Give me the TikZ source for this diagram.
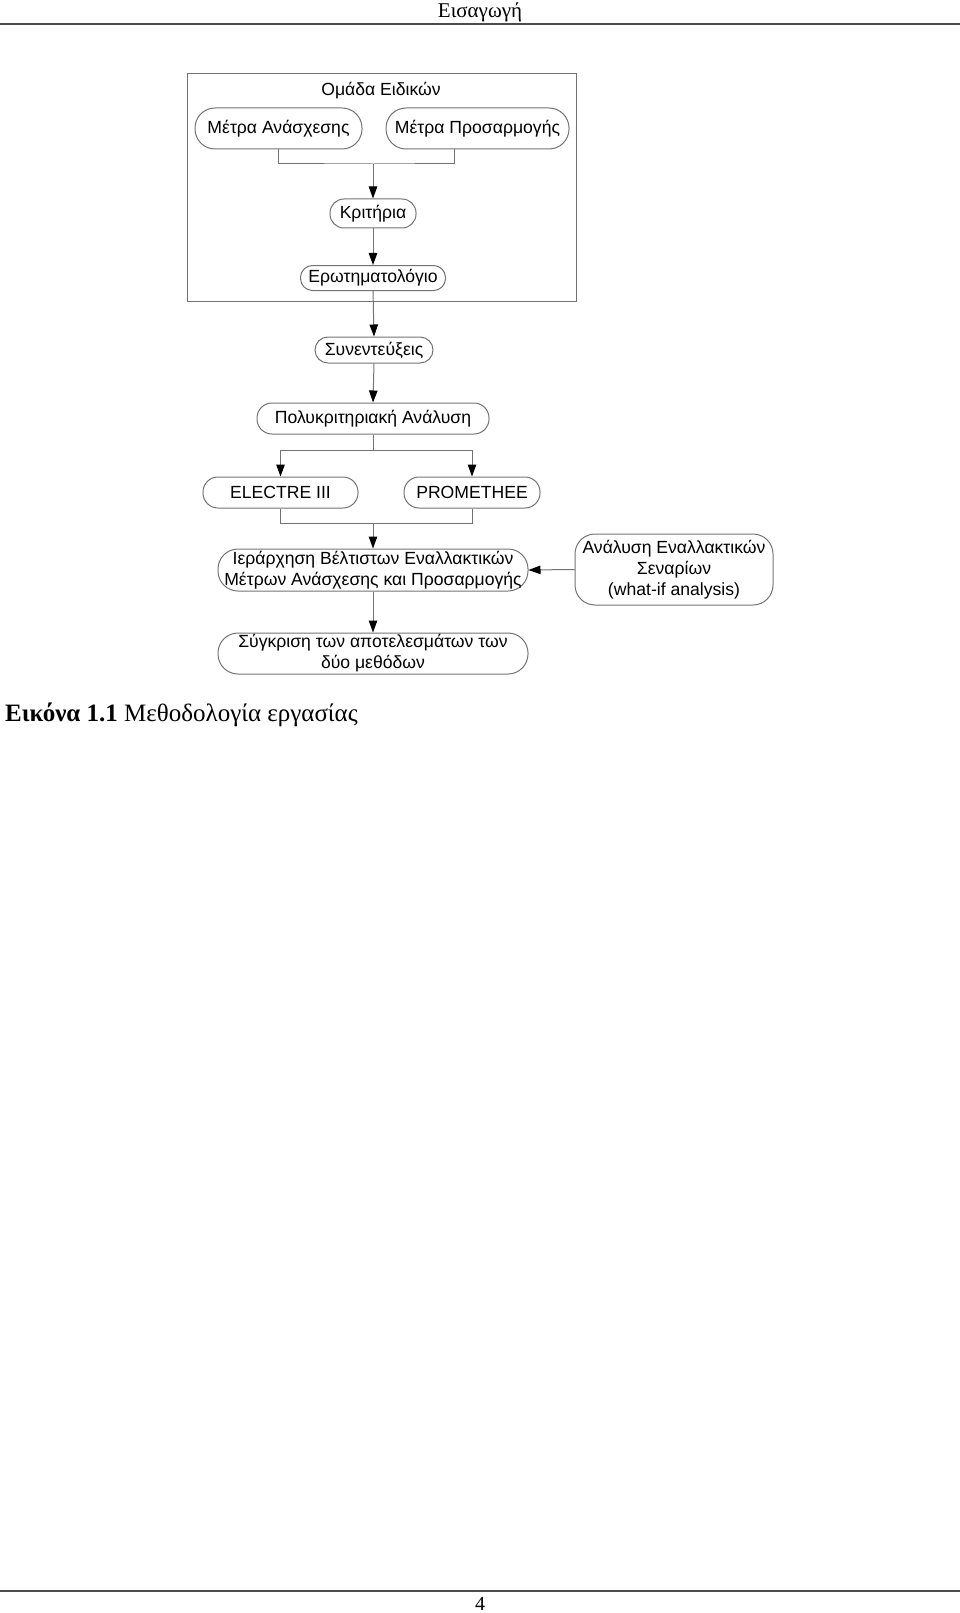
\documentclass[tikz,border=0pt]{standalone}
\usepackage{fontspec}
\setmainfont{Liberation Serif}
\newfontfamily\diag{Liberation Sans}
\usetikzlibrary{arrows.meta,calc}
\definecolor{linegray}{gray}{0.45}
\definecolor{rulegray}{gray}{0.3}
\begin{document}
\begin{tikzpicture}[x=1pt,y=-1pt,
  box/.style={draw=linegray, line width=1pt, rounded corners=#1, inner sep=0pt, align=center,
    font=\diag\fontsize{17.6}{21}\selectfont},
  box/.default=12pt,
  lbl/.style={inner sep=0pt, font=\diag\fontsize{17.6}{21}\selectfont},
  conn/.style={draw=linegray, line width=1pt},
  arr/.style={conn, -{Triangle[length=12pt,width=8.5pt,color=black]}},
  rulel/.style={draw=rulegray, line width=2pt},
]
\useasboundingbox (0,0) rectangle (960,1613);

% header and footer
\node[inner sep=0pt, font=\fontsize{21}{24}\selectfont] (hdr) at (480,12) {Εισαγωγή};
\draw[rulel] (0,24) -- (960,24);
\draw[rulel] (0,1591) -- (960,1591);
\node[inner sep=0pt, font=\fontsize{20}{24}\selectfont] (pg) at (480,1604) {4};

% group frame
\node[draw=linegray, line width=1pt, minimum width=389pt, minimum height=227pt, inner sep=0pt] (grp) at (381.5,187.5) {};
\node[lbl] (grptitle) at (381,91) {Ομάδα Ειδικών};

% nodes
\node[box=20pt, minimum width=167pt, minimum height=41pt] (ma) at (278.5,128.5) {Μέτρα Ανάσχεσης};
\node[box=20pt, minimum width=183pt, minimum height=41pt] (mp) at (477.5,128.5) {Μέτρα Προσαρμογής};
\node[box=14pt, minimum width=86pt, minimum height=29pt] (kr) at (373,213.5) {Κριτήρια};
\node[box=12pt, minimum width=145pt, minimum height=25pt] (er) at (373,278) {Ερωτηματολόγιο};
\node[box=13pt, minimum width=118pt, minimum height=26pt] (sy) at (374,350) {Συνεντεύξεις};
\node[box=15pt, minimum width=232pt, minimum height=31pt] (pa) at (373,418.5) {Πολυκριτηριακή Ανάλυση};
\node[box=15pt, minimum width=155pt, minimum height=31pt] (el) at (280.5,492.5) {ELECTRE III};
\node[box=15pt, minimum width=136pt, minimum height=31pt] (pr) at (472,492.5) {PROMETHEE};
\node[box=20pt, minimum width=310pt, minimum height=42pt] (ie) at (373,570) {Ιεράρχηση Βέλτιστων Εναλλακτικών\\Μέτρων Ανάσχεσης και Προσαρμογής};
\node[box=20pt, minimum width=198pt, minimum height=71pt] (an) at (674,569.5) {Ανάλυση Εναλλακτικών\\Σεναρίων\\(what-if analysis)};
\node[box=20pt, minimum width=310pt, minimum height=41pt] (sg) at (373,653.5) {Σύγκριση των αποτελεσμάτων των\\δύο μεθόδων};

% connectors
\coordinate (j1) at (373,164);
\coordinate (mpx) at (454,149);
\draw[conn] (ma.south) |- (j1) -| (mpx);
\draw[arr] (j1) -- (kr.north);
\draw[arr] (kr.south) -- (er.north);
\draw[arr] (er.south) -- (sy.north);
\draw[arr] (sy.south) -- (pa.north);
\coordinate (j2) at (373,450);
\draw[conn] (pa.south) -- (j2);
\draw[arr] (j2) -| (el.north);
\draw[arr] (j2) -| (pr.north);
\coordinate (j3) at (373,523);
\draw[conn] (el.south) |- (j3);
\draw[conn] (pr.south) |- (j3);
\draw[arr] (j3) -- (ie.north);
\draw[arr] (an.west) -- (ie.east);
\draw[arr] (ie.south) -- (sg.north);

% caption
\node[anchor=west, inner sep=0pt, font=\fontsize{25}{28}\selectfont] (cap) at (5,715) {\textbf{Εικόνα 1.1} Μεθοδολογία εργασίας};
\end{tikzpicture}
\end{document}
